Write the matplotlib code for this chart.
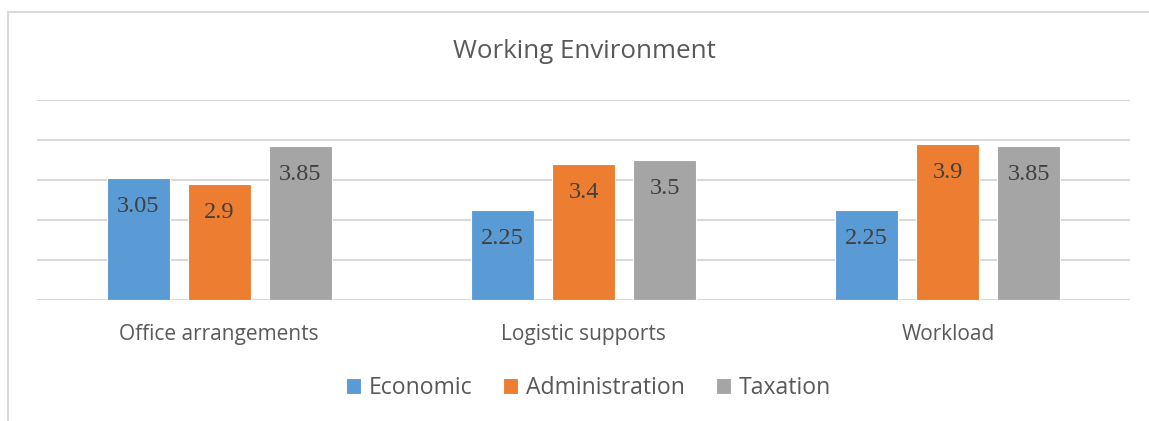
import matplotlib
matplotlib.use("Agg")
import matplotlib.pyplot as plt
from matplotlib.patches import Rectangle
import numpy as np

categories = ["Office arrangements", "Logistic supports", "Workload"]
series = ["Economic", "Administration", "Taxation"]
economic = [3.05, 2.25, 2.25]
administration = [2.9, 3.4, 3.9]
taxation = [3.85, 3.5, 3.85]
labels_econ = ["3.05", "2.25", "2.25"]
labels_admin = ["2.9", "3.4", "3.9"]
labels_tax = ["3.85", "3.5", "3.85"]
colors = ["#5B9BD5", "#ED7D31", "#A5A5A5"]

W, H = 1149, 421
fig = plt.figure(figsize=(W / 100, H / 100), dpi=100)
ax = fig.add_axes([37 / W, 1 - 300 / H, (1130 - 37) / W, 200 / H])

x = np.arange(len(categories))
step = 0.2225
width = 0.173
values = [economic, administration, taxation]
labels = [labels_econ, labels_admin, labels_tax]
for i, (vals, labs, c, name) in enumerate(zip(values, labels, colors, series)):
    pos = x + (i - 1) * step
    bars = ax.bar(pos, vals, width=width, color=c, edgecolor="white", linewidth=0.8, label=name, zorder=3)
    for b, lab in zip(bars, labs):
        ax.text(b.get_x() + b.get_width() / 2, b.get_height() - 0.7, lab,
                ha="center", va="center", fontsize=17.5, color="#404040",
                family="Liberation Serif", zorder=4)

ax.set_xlim(-0.5, 2.5)
ax.set_ylim(0, 5)
ax.set_yticks([0, 1, 2, 3, 4, 5])
ax.yaxis.grid(True, color="#D9D9D9", linewidth=1.5, zorder=0)
ax.set_axisbelow(True)
ax.tick_params(axis="y", left=False, labelleft=False)
ax.tick_params(axis="x", bottom=False, labelsize=15, labelcolor="#595959", pad=14)
ax.set_xticks(x)
ax.set_xticklabels(categories, family="Open Sans")
for s in ax.spines.values():
    s.set_visible(False)

fig.text(584 / W, 1 - 52 / H, "Working Environment", ha="center", va="center",
         fontsize=18.6, color="#595959", family="Open Sans")

leg = fig.legend(loc="center", bbox_to_anchor=(588.5 / W, 1 - 388 / H), ncol=3, frameon=False,
                 prop={"family": "Open Sans", "size": 16.6}, handlelength=0.65, handleheight=0.65,
                 handletextpad=0.35, columnspacing=1.33, labelcolor="#595959")

fig.patches.append(Rectangle((7.5 / W, -0.1), 1.2, 1 - 11.5 / H + 0.1, transform=fig.transFigure,
                             fill=False, edgecolor="#D9D9D9", linewidth=1.5))

fig.savefig("out.png", dpi=100)
